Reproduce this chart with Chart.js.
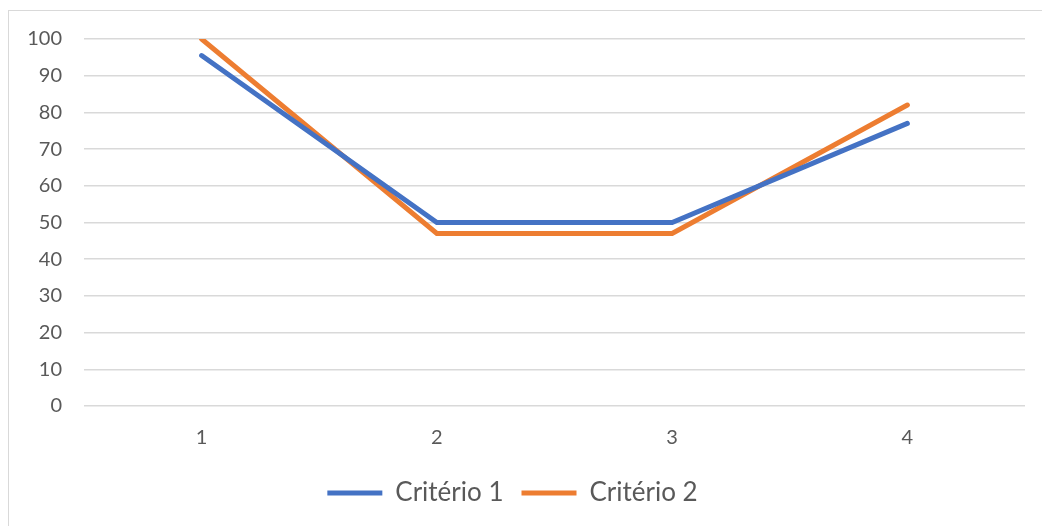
<!DOCTYPE html>
<html>
<head>
<meta charset="utf-8">
<script src="https://cdn.jsdelivr.net/npm/chart.js@4.4.1/dist/chart.umd.min.js"></script>
<style>
  html, body { margin: 0; padding: 0; background: #fff; }
  #wrap { position: relative; width: 1042px; height: 526px; overflow: hidden; }
  #frame { position: absolute; left: 8px; top: 10px; width: 1100px; height: 600px; border: 1px solid #D9D9D9; box-sizing: border-box; }
  canvas { position: absolute; left: 0; top: 0; }
</style>
</head>
<body>
<div id="wrap">
  <div id="frame"></div>
  <canvas id="c" width="1042" height="526"></canvas>
</div>
<script>
const categories = ['1', '2', '3', '4'];
const criterio1 = [95.5, 50, 50, 77];
const criterio2 = [100, 47, 47, 82];
const seriesNames = ['Critério 1', 'Critério 2'];
const yTicks = [0, 10, 20, 30, 40, 50, 60, 70, 80, 90, 100];

const textColor = '#595959';
const fontFamily = 'Lato, "Open Sans", sans-serif';

new Chart(document.getElementById('c'), {
  type: 'line',
  data: {
    labels: categories,
    datasets: [
      { label: seriesNames[0], data: criterio1, borderColor: '#4472C4', backgroundColor: '#4472C4',
        borderWidth: 5, pointRadius: 0, tension: 0, borderCapStyle: 'round', borderJoinStyle: 'miter' },
      { label: seriesNames[1], data: criterio2, borderColor: '#ED7D31', backgroundColor: '#ED7D31',
        borderWidth: 5, pointRadius: 0, tension: 0, borderCapStyle: 'round', borderJoinStyle: 'miter' }
    ]
  },
  options: {
    responsive: false,
    animation: false,
    layout: { padding: { left: 0, right: 17, top: 39, bottom: 10 } },
    plugins: {
      tooltip: { enabled: false },
      legend: {
        position: 'bottom',
        labels: {
          usePointStyle: true,
          pointStyle: 'line',
          pointStyleWidth: 55,
          color: textColor,
          padding: 18,
          font: { family: fontFamily, size: 26 }
        }
      }
    },
    scales: {
      x: {
        offset: true,
        grid: { display: false },
        border: { display: false },
        ticks: { color: textColor, padding: 12, font: { family: fontFamily, size: 20 } }
      },
      y: {
        min: 0,
        max: 100,
        afterFit: (s) => { s.width = 84; },
        afterBuildTicks: (s) => { s.ticks = yTicks.map(v => ({ value: v })); },
        grid: { color: '#D9D9D9', lineWidth: 1.5, drawTicks: false },
        border: { display: false },
        ticks: { color: textColor, padding: 22, font: { family: fontFamily, size: 20 } }
      }
    }
  }
});
</script>
</body>
</html>
